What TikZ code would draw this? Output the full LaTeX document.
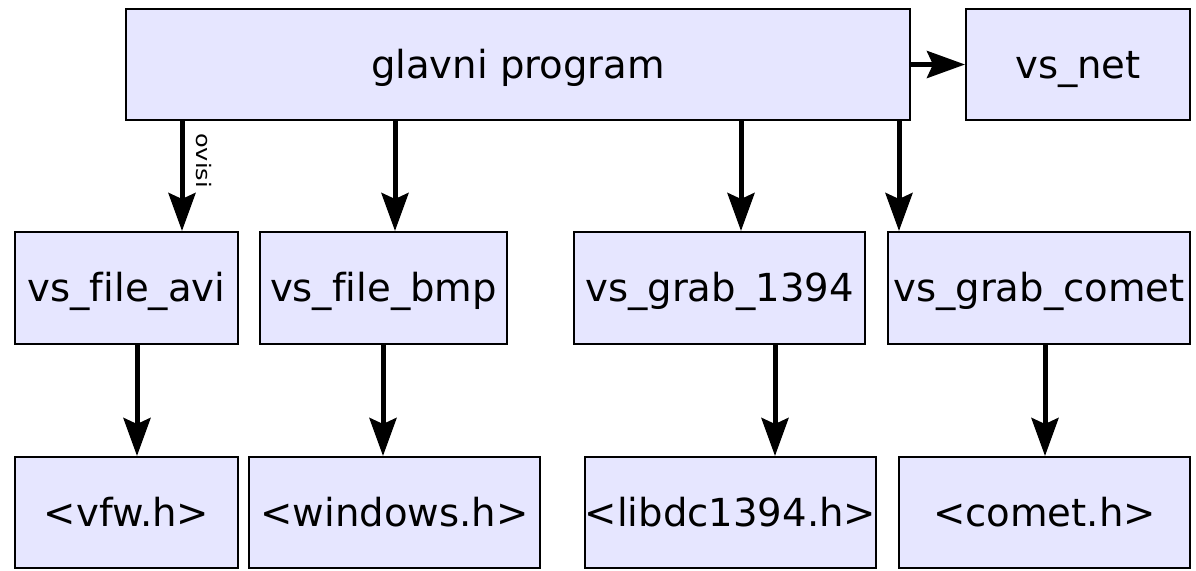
\documentclass[tikz,border=0pt]{standalone}
\usepackage{fontspec}
\setmainfont{DejaVu Sans}[Ligatures=NoCommon]
\usetikzlibrary{arrows.meta}
\definecolor{boxfill}{HTML}{E6E6FF}
\tikzset{
  box/.style={draw=black, line width=1pt, fill=boxfill, inner sep=0pt,
    minimum height=55.5pt, text height=13.5pt, text depth=0pt,
    font=\fontsize{19.3}{23}\selectfont},
  arr/.style={line width=2.5pt, -{Stealth[length=19pt,width=13.5pt,inset=3pt]}},
}
\begin{document}
\begin{tikzpicture}[x=0.5pt,y=-0.5pt]
\useasboundingbox (0,0) rectangle (1196,570);
% top row
\node[box, minimum width=392pt] (main) at (518,64.5) {glavni program};
\node[box, minimum width=112pt] (net) at (1078,64.5) {vs\_net};
% middle row
\node[box, minimum width=111.5pt, minimum height=56pt] (avi) at (126.5,288) {vs\_file\_avi};
\node[box, minimum width=123.5pt, minimum height=56pt] (bmp) at (383.5,288) {vs\_file\_bmp};
\node[box, minimum width=145.5pt, minimum height=56pt] (g1394) at (719.5,288) {vs\_grab\_1394};
\node[box, minimum width=151pt, minimum height=56pt] (gcomet) at (1039,288) {vs\_grab\_comet};
% bottom row
\node[box, minimum width=111.5pt] (vfw) at (126.5,512.5) {<vfw.h>};
\node[box, minimum width=145.5pt] (win) at (394.5,512.5) {<windows.h>};
\node[box, minimum width=145.5pt] (dc) at (730.5,512.5) {<libdc1394.h>};
\node[box, minimum width=145.5pt] (cometh) at (1044.5,512.5) {<comet.h>};
% vertical lines of the arrows
\coordinate (xa) at (182,0);
\coordinate (xb) at (395,0);
\coordinate (xc) at (741,0);
\coordinate (xd) at (899,0);
\coordinate (xe) at (137,0);
\coordinate (xf) at (383,0);
\coordinate (xg) at (775,0);
\coordinate (xh) at (1045,0);
% dependencies
\draw[arr] (main.east) -- (net.west);
\draw[arr] (main.south -| xa) -- (avi.north -| xa)
  node[pos=0.36, right=5pt, rotate=-90, anchor=south, inner sep=1pt,
       font=\fontsize{10}{12}\selectfont] (lbl) {\scalebox{1.2}[1]{ovisi}};
\draw[arr] (main.south -| xb) -- (bmp.north -| xb);
\draw[arr] (main.south -| xc) -- (g1394.north -| xc);
\draw[arr] (main.south -| xd) -- (gcomet.north -| xd);
\draw[arr] (avi.south -| xe) -- (vfw.north -| xe);
\draw[arr] (bmp.south -| xf) -- (win.north -| xf);
\draw[arr] (g1394.south -| xg) -- (dc.north -| xg);
\draw[arr] (gcomet.south -| xh) -- (cometh.north -| xh);
\end{tikzpicture}
\end{document}
